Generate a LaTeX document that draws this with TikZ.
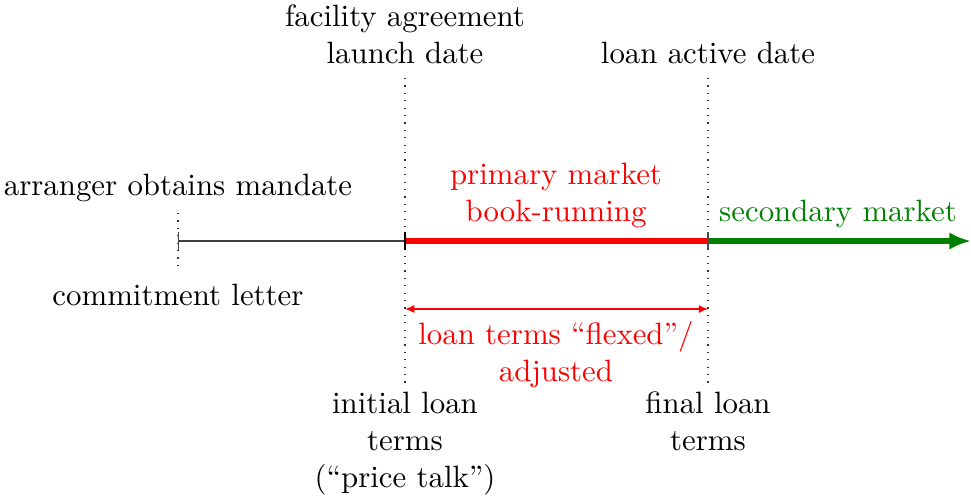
\documentclass[tikz,border=0pt]{standalone}
\usetikzlibrary{arrows.meta,calc}
\begin{document}
\begin{tikzpicture}[x=0.3243pt,y=-0.3243pt,
  lbl/.style={inner sep=0pt,align=center,anchor=north},
  guide/.style={dotted,line width=0.4pt,black!80},
  thinline/.style={line width=0.4pt,black!75},
  thickred/.style={red,line width=1.8pt},
  thickgreen/.style={green!50!black,line width=1.8pt,-{Latex[length=7pt,width=5.6pt]}},
  flexarrow/.style={red,line width=0.4pt,{Latex[length=3pt,width=2.6pt]}-{Latex[length=3pt,width=2.6pt]}}]
\useasboundingbox (0,0) rectangle (971,498);
% timeline points
\coordinate (A) at (178,241);
\coordinate (B) at (405,241);
\coordinate (C) at (708,241);
\coordinate (D) at (971,241);
\coordinate (Atop) at (178,213);
\coordinate (Abot) at (178,268);
\coordinate (Btop) at (405,78);
\coordinate (Bbot) at (405,386);
\coordinate (Ctop) at (708,78);
\coordinate (Cbot) at (708,386);
\coordinate (Bf) at (405,309);
\coordinate (Cf) at (708,309);
% guides
\draw[guide] (Atop) -- (Abot);
\draw[guide] (Btop) -- (Bbot);
\draw[guide] (Ctop) -- (Cbot);
% timeline
\draw[thinline,{Bar[width=5.6pt]}-] (A) -- (B);
\draw[thickred] (B) -- (C);
\draw[thickgreen] (C) -- (D);
\draw[line width=0.5pt] ($(B)+(0,-9)$) -- ($(B)+(0,9)$);
\draw[black!70,line width=0.5pt] ($(C)+(0,-9)$) -- ($(C)+(0,9)$);
\draw[flexarrow] (Bf) -- (Cf);
% labels
\node[lbl] (fa) at (405,4) {facility agreement\\launch date};
\node[lbl] (lad) at (708,41) {loan active date};
\node[lbl] (arr) at (178,173) {arranger obtains mandate};
\node[lbl] (cl) at (178,283) {commitment letter};
\node[lbl,red] (pm) at (556,162) {primary market\\book-running};
\node[lbl,green!50!black] (sm) at (838,199) {secondary market};
\node[lbl,red] (flex) at (556,321) {loan terms ``flexed''/\\adjusted};
\node[lbl] (ilt) at (405,391) {initial loan\\terms\\(``price talk'')};
\node[lbl] (flt) at (708,391) {final loan\\terms};
\end{tikzpicture}
\end{document}
